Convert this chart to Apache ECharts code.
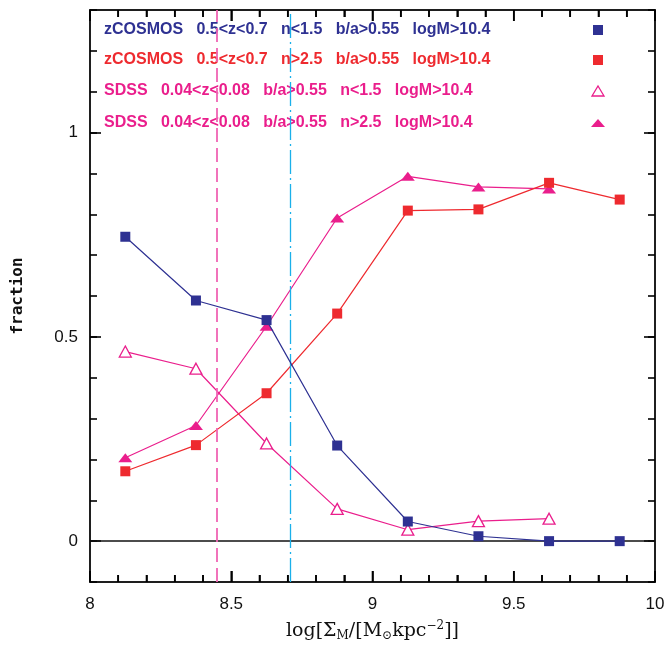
<!DOCTYPE html>
<html>
<head>
<meta charset="utf-8">
<script src="https://cdn.jsdelivr.net/npm/echarts@6/dist/echarts.min.js"></script>
<style>html,body{margin:0;padding:0;background:#fff}#c{width:668px;height:646px}</style>
</head>
<body>
<div id="c"></div>
<script>
var xVals = [8.125, 8.375, 8.625, 8.875, 9.125, 9.375, 9.625, 9.875];
var zcosmosLate = [0.745, 0.589, 0.541, 0.234, 0.048, 0.012, 0, 0];
var zcosmosEarly = [0.171, 0.235, 0.362, 0.557, 0.809, 0.812, 0.877, 0.836];
var sdssLate = [0.464, 0.422, 0.239, 0.079, 0.028, 0.049, 0.055];
var sdssEarly = [0.204, 0.283, 0.526, 0.791, 0.893, 0.867, 0.862];
var vLineDashed = 8.45;
var vLineDashDot = 8.71;
var xMajorTicks = [8, 8.5, 9, 9.5, 10];
var xMinorTicks = [8.1, 8.2, 8.3, 8.4, 8.6, 8.7, 8.8, 8.9, 9.1, 9.2, 9.3, 9.4, 9.6, 9.7, 9.8, 9.9];
var yMajorTicks = [0, 0.5, 1];
var legendLabels = [
  'zCOSMOS   0.5<z<0.7   n<1.5   b/a>0.55   logM>10.4',
  'zCOSMOS   0.5<z<0.7   n>2.5   b/a>0.55   logM>10.4',
  'SDSS   0.04<z<0.08   b/a>0.55   n<1.5   logM>10.4',
  'SDSS   0.04<z<0.08   b/a>0.55   n>2.5   logM>10.4'
];

var BLUE = '#2e3192', RED = '#ee2a2f', PINK = '#ea1e8c';
var Y_MIN = -0.1, Y_MAX = 1.3, X_MIN = 8, X_MAX = 10;

function pairs(xs, ys) { return ys.map(function (v, i) { return [xs[i], v]; }); }

var chart = echarts.init(document.getElementById('c'), null, {renderer: 'canvas'});
function axisLine() { return {show: true, onZero: false, lineStyle: {color: '#111', width: 1.5}}; }
function tickStyle() { return {color: '#000', width: 1.6}; }

function xMajor(pos, showLabel) {
  var a = {
    type: 'value', position: pos, min: X_MIN, max: X_MAX, interval: 0.5,
    axisLine: axisLine(),
    axisTick: {show: true, inside: true, length: 11, lineStyle: tickStyle(), customValues: xMajorTicks},
    splitLine: {show: false},
    axisLabel: {show: showLabel, fontSize: 17, color: '#111', margin: 14, fontFamily: 'Liberation Sans',
      formatter: function (v) { return String(v); }}
  };
  if (showLabel) {
    a.name = 'log[Σ{s|M}/[M{s|⊙}kpc{p|−2}]]';
    a.nameLocation = 'middle';
    a.nameGap = 38;
    a.nameTextStyle = {fontSize: 19, color: '#111', fontFamily: 'DejaVu Serif', fontWeight: 'normal',
      rich: {
        s: {fontSize: 12, fontFamily: 'DejaVu Serif', color: '#111', padding: [10, 0, 0, 0]},
        p: {fontSize: 12, fontFamily: 'DejaVu Serif', color: '#111', padding: [0, 0, 10, 0]}
      }};
  }
  return a;
}
function xMinor(pos) {
  return {
    type: 'value', position: pos, min: X_MIN, max: X_MAX,
    axisLine: axisLine(),
    axisTick: {show: true, inside: true, length: 7, lineStyle: tickStyle(), customValues: xMinorTicks},
    axisLabel: {show: false}, splitLine: {show: false}
  };
}

function yMajor(pos, showLabel) {
  return {
    type: 'value', position: pos, min: Y_MIN, max: Y_MAX,
    axisLine: axisLine(),
    axisTick: {show: true, inside: true, length: 11, lineStyle: tickStyle(), customValues: yMajorTicks},
    axisLabel: {show: showLabel, customValues: yMajorTicks, fontSize: 17, color: '#111', margin: 12,
      fontFamily: 'Liberation Sans', formatter: function (v) { return String(v); }},
    splitLine: {show: false},
    name: showLabel ? 'fraction' : '', nameLocation: 'middle', nameRotate: 90, nameGap: 64,
    nameTextStyle: {fontSize: 16, color: '#111', fontWeight: 'bold', fontFamily: 'DejaVu Sans Mono'}
  };
}
function yMinor(pos) {
  return {
    type: 'value', position: pos, min: Y_MIN, max: Y_MAX, interval: 0.1,
    axisLine: axisLine(),
    axisTick: {show: true, inside: true, length: 7, lineStyle: tickStyle()},
    axisLabel: {show: false}, splitLine: {show: false}
  };
}

// x-axis ticks drawn again through the chart's own scale (top and bottom edges)
var tickData = xMajorTicks.map(function (v) { return [v, Y_MIN, 11]; })
  .concat(xMinorTicks.map(function (v) { return [v, Y_MIN, 7]; }));
function renderTick(params, api) {
  var v = api.value(0), len = api.value(2);
  var pb = api.coord([v, Y_MIN]);
  var pt = api.coord([v, Y_MAX]);
  return {
    type: 'group',
    children: [
      {type: 'rect', shape: {x: pb[0] - 0.8, y: pb[1] - len, width: 1.6, height: len}, style: {fill: '#000'}},
      {type: 'rect', shape: {x: pt[0] - 0.8, y: pt[1], width: 1.6, height: len}, style: {fill: '#000'}}
    ]
  };
}

var legendFont = 'bold 16px "Liberation Sans"';
var rowsY = [30, 60, 91, 123];
var rowColors = [BLUE, RED, PINK, PINK];
var graphics = [];
legendLabels.forEach(function (t, i) {
  graphics.push({type: 'text', x: 104, y: rowsY[i], silent: true,
    style: {text: t, font: legendFont, fill: rowColors[i], verticalAlign: 'middle', align: 'left'}});
});
var mx = 598;
graphics.push({type: 'rect', shape: {x: mx - 5, y: rowsY[0] - 5, width: 10, height: 10}, style: {fill: BLUE}});
graphics.push({type: 'rect', shape: {x: mx - 5, y: rowsY[1] - 5, width: 10, height: 10}, style: {fill: RED}});
graphics.push({type: 'polygon', shape: {points: [[mx - 6, rowsY[2] + 5], [mx + 6, rowsY[2] + 5], [mx, rowsY[2] - 5]]},
  style: {fill: '#fff', stroke: PINK, lineWidth: 1.3}});
graphics.push({type: 'polygon', shape: {points: [[mx - 7, rowsY[3] + 4], [mx + 7, rowsY[3] + 4], [mx, rowsY[3] - 4]]},
  style: {fill: PINK}});

chart.setOption({
  animation: false,
  backgroundColor: '#fff',
  grid: {left: 90, right: 13, top: 10, bottom: 64, outerBoundsMode: 'none', containLabel: false},
  xAxis: [xMajor('bottom', true), xMinor('bottom'), xMajor('top', false), xMinor('top')],
  yAxis: [yMajor('left', true), yMinor('left'), yMajor('right', false), yMinor('right')],
  graphic: graphics,
  series: [
    {
      name: 'x ticks', type: 'custom', xAxisIndex: 0, yAxisIndex: 0, silent: true, clip: false,
      encode: {x: 0, y: 1}, data: tickData, renderItem: renderTick, z: 10
    },
    {
      name: 'SDSS n<1.5', type: 'line', xAxisIndex: 0, yAxisIndex: 0,
      data: pairs(xVals, sdssLate), symbol: 'triangle', symbolSize: [12, 11],
      lineStyle: {color: PINK, width: 1.2}, itemStyle: {color: '#fff', borderColor: PINK, borderWidth: 1.3},
      z: 2,
      markLine: {
        silent: true, symbol: 'none', label: {show: false}, animation: false,
        data: [
          {yAxis: 0, lineStyle: {color: '#111', width: 1.5, type: 'solid'}},
          {xAxis: vLineDashed, lineStyle: {color: '#f064b4', width: 1.8, type: [14, 6]}},
          {xAxis: vLineDashDot, lineStyle: {color: '#1ab0ea', width: 1.3, type: [24, 4, 2, 4]}}
        ]
      }
    },
    {
      name: 'SDSS n>2.5', type: 'line', xAxisIndex: 0, yAxisIndex: 0,
      data: pairs(xVals, sdssEarly), symbol: 'triangle', symbolSize: [14, 9],
      lineStyle: {color: PINK, width: 1.2}, itemStyle: {color: PINK}, z: 3
    },
    {
      name: 'zCOSMOS n>2.5', type: 'line', xAxisIndex: 0, yAxisIndex: 0,
      data: pairs(xVals, zcosmosEarly), symbol: 'rect', symbolSize: 10,
      lineStyle: {color: RED, width: 1.2}, itemStyle: {color: RED}, z: 4
    },
    {
      name: 'zCOSMOS n<1.5', type: 'line', xAxisIndex: 0, yAxisIndex: 0,
      data: pairs(xVals, zcosmosLate), symbol: 'rect', symbolSize: 10,
      lineStyle: {color: BLUE, width: 1.2}, itemStyle: {color: BLUE}, z: 5
    }
  ]
});
</script>
</body>
</html>
